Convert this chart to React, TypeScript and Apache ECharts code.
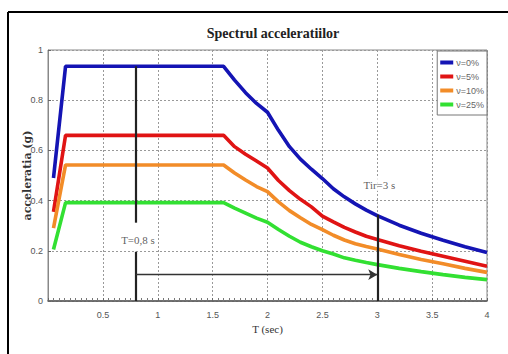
import React, { useEffect, useRef } from "react";
import * as echarts from "echarts";

const TITLE = "Spectrul acceleratiilor";
const X_NAME = "T (sec)";
const Y_NAME = "acceleratia (g)";
const SERIES_NAMES = ["ν=0%", "ν=5%", "ν=10%", "ν=25%"];
const SERIES_COLORS = ["#1414b4", "#e01414", "#f28c28", "#32e032"];

const T_VALUES = [0.05, 0.16, 1.6, 1.7, 1.8, 1.9, 2.0, 2.1, 2.2, 2.3, 2.4, 2.5, 2.6, 2.7, 2.8, 2.9, 3.0, 3.2, 3.4, 3.6, 3.8, 4.0];
const S_0 = [0.49, 0.935, 0.935, 0.88, 0.83, 0.787, 0.752, 0.68, 0.615, 0.565, 0.525, 0.488, 0.447, 0.415, 0.387, 0.362, 0.34, 0.302, 0.27, 0.242, 0.216, 0.193];
const S_5 = [0.355, 0.66, 0.66, 0.615, 0.585, 0.558, 0.53, 0.48, 0.44, 0.405, 0.375, 0.338, 0.315, 0.293, 0.275, 0.258, 0.245, 0.22, 0.198, 0.178, 0.158, 0.138];
const S_10 = [0.29, 0.542, 0.542, 0.51, 0.482, 0.456, 0.436, 0.395, 0.36, 0.332, 0.305, 0.284, 0.262, 0.243, 0.228, 0.217, 0.207, 0.185, 0.165, 0.148, 0.13, 0.114];
const S_25 = [0.205, 0.392, 0.392, 0.37, 0.35, 0.33, 0.314, 0.285, 0.258, 0.234, 0.216, 0.2, 0.187, 0.172, 0.162, 0.153, 0.145, 0.13, 0.117, 0.105, 0.094, 0.085];
const SERIES_VALUES = [S_0, S_5, S_10, S_25];

// annotations (data coordinates)
const T_START = 0.8;
const T_END = 3;
const T_START_TOP = 0.935;
const T_START_GAP = [0.312, 0.196];
const T_END_TOP = 0.344;
const ARROW_LEVEL = 0.105;
const LABEL_START = { text: "T=0,8 s", t: 0.82, v: 0.245 };
const LABEL_END = { text: "Tir=3 s", t: 3.02, v: 0.464 };

const X_MIN = 0, X_MAX = 4, X_STEP = 0.5;
const Y_MIN = 0, Y_MAX = 1, Y_STEP = 0.2;

export default function App() {
  const ref = useRef<HTMLDivElement>(null);
  useEffect(() => {
    document.body.style.margin = "0";
    const chart = echarts.init(ref.current!, undefined, { renderer: "svg" });
    const tickFont = { fontFamily: "Liberation Sans Narrow, Liberation Sans, sans-serif", fontSize: 9, color: "#555" };
    const lineSeries = SERIES_NAMES.map((name, i) => ({
      name,
      type: "line",
      data: T_VALUES.map((t, j) => [t, SERIES_VALUES[i][j]]),
      showSymbol: false,
      symbol: "none",
      lineStyle: { color: SERIES_COLORS[i], width: 3.6 },
      itemStyle: { color: SERIES_COLORS[i] },
      z: 3,
    }));
    chart.setOption({
      animation: false,
      backgroundColor: "#fff",
      title: {
        text: TITLE,
        left: 268,
        top: 21,
        textAlign: "center",
        textStyle: { fontFamily: "Liberation Serif, serif", fontWeight: "bold", fontSize: 14, color: "#222" },
      },
      legend: {
        orient: "vertical",
        right: 21,
        top: 51,
        data: SERIES_NAMES,
        icon: "rect",
        itemWidth: 13,
        itemHeight: 4,
        itemGap: 5,
        padding: [7, 3, 6, 3],
        backgroundColor: "#fff",
        borderColor: "#777",
        borderWidth: 1,
        textStyle: { fontFamily: "Liberation Sans Narrow, sans-serif", fontSize: 9, color: "#666", padding: [0, 0, 0, -2] },
      },
      grid: { left: 48, right: 21, top: 50, bottom: 53, show: true, borderColor: "#888", borderWidth: 1 },
      xAxis: {
        type: "value",
        min: X_MIN,
        max: X_MAX,
        interval: X_STEP,
        name: X_NAME,
        nameLocation: "middle",
        nameGap: 18,
        nameTextStyle: { fontFamily: "Liberation Serif, serif", fontSize: 11, color: "#333" },
        axisLine: { lineStyle: { color: "#555", width: 1.5 } },
        axisTick: { inside: true, length: 3, lineStyle: { color: "#666" } },
        minorTick: { show: true, splitNumber: 10, length: 3, lineStyle: { color: "#777" } },
        axisLabel: {
          ...tickFont,
          margin: 9,
          formatter: (v: number) => (v === 0 ? "" : String(v)),
        },
        splitLine: { show: true, lineStyle: { color: "#999", type: [2, 2], width: 1 } },
      },
      yAxis: {
        type: "value",
        min: Y_MIN,
        max: Y_MAX,
        interval: Y_STEP,
        name: Y_NAME,
        nameLocation: "middle",
        nameRotate: 90,
        nameGap: 15,
        nameMoveOverlap: false,
        nameTextStyle: { fontFamily: "DejaVu Serif, serif", fontWeight: "bold", fontSize: 11, color: "#333" },
        axisLine: { show: true, lineStyle: { color: "#888", width: 1 } },
        axisTick: { show: true, inside: true, length: 3, lineStyle: { color: "#666" } },
        axisLabel: {
          ...tickFont,
          margin: 5,
          formatter: (v: number) => String(Math.round(v * 10) / 10),
        },
        splitLine: { show: true, lineStyle: { color: "#999", type: [2, 2], width: 1 } },
      },
      graphic: [
        { type: "line", shape: { x1: 8, y1: 12, x2: 508, y2: 12 }, style: { stroke: "#000", lineWidth: 2 } },
        { type: "line", shape: { x1: 8, y1: 12, x2: 8, y2: 354 }, style: { stroke: "#000", lineWidth: 2 } },
      ],
      series: [
        ...lineSeries,
        {
          type: "line",
          data: [],
          silent: true,
          markLine: {
            silent: true,
            symbol: "none",
            label: { show: false },
            lineStyle: { color: "#222", width: 2.2, type: "solid" },
            data: [
              [{ coord: [T_START, T_START_TOP] }, { coord: [T_START, T_START_GAP[0]] }],
              [{ coord: [T_START, T_START_GAP[1]] }, { coord: [T_START, 0] }],
              [{ coord: [T_END, T_END_TOP] }, { coord: [T_END, 0] }],
            ],
          },
          z: 4,
        },
        {
          type: "line",
          data: [],
          silent: true,
          markLine: {
            silent: true,
            symbol: ["none", "arrow"],
            symbolSize: [8, 9],
            label: { show: false },
            lineStyle: { color: "#333", width: 1.3, type: "solid" },
            data: [[{ coord: [T_START, ARROW_LEVEL] }, { coord: [T_END, ARROW_LEVEL] }]],
          },
          z: 4,
        },
        {
          type: "scatter",
          symbolSize: 0,
          silent: true,
          data: [
            { value: [LABEL_START.t, LABEL_START.v], name: LABEL_START.text },
            { value: [LABEL_END.t, LABEL_END.v], name: LABEL_END.text },
          ],
          label: {
            show: true,
            position: "inside",
            formatter: (p: any) => p.name,
            fontFamily: "Liberation Serif, serif",
            fontSize: 11,
            color: "#333",
            backgroundColor: "#fff",
            padding: [1, 1],
          },
          z: 5,
        },
      ],
    });
    return () => chart.dispose();
  }, []);
  return <div ref={ref} style={{ position: "absolute", left: 0, top: 0, width: 508, height: 354 }} />;
}
